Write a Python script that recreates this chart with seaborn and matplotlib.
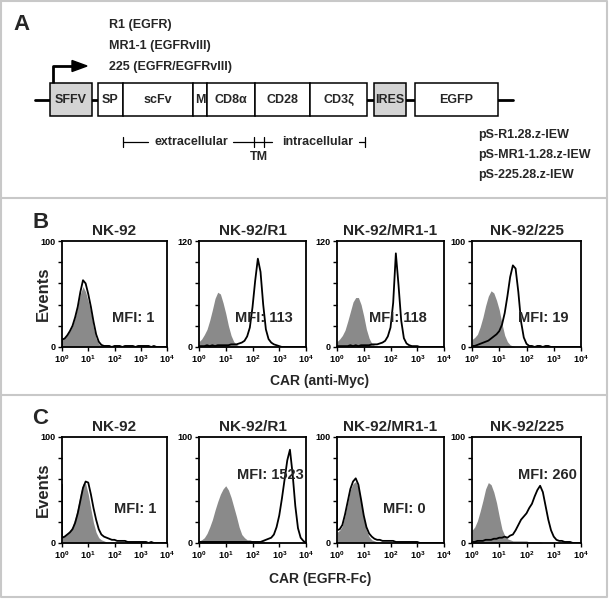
import matplotlib
matplotlib.use('Agg')
import matplotlib.pyplot as plt
from matplotlib.patches import Rectangle, Polygon
from matplotlib.ticker import NullLocator
import numpy as np
import seaborn as sns

sns.set_style('ticks')
plt.rcParams['font.family'] = ['Liberation Sans', 'DejaVu Sans']
plt.rcParams['font.weight'] = 'bold'
plt.rcParams['mathtext.fontset'] = 'custom'
plt.rcParams['mathtext.default'] = 'bf'
plt.rcParams['mathtext.bf'] = 'Liberation Sans:bold'
plt.rcParams['mathtext.rm'] = 'Liberation Sans:bold'

# ---- data -----------------------------------------------------------------
# channel grid in log10 units (10^0 .. 10^4, 0.1 decade bins)
log_channel = np.linspace(0, 4, 41)

samples = ['NK-92', 'NK-92/R1', 'NK-92/MR1-1', 'NK-92/225']

# panel B: CAR (anti-Myc); gray = control, black = stained
myc_control = [
    [7, 9, 12, 15, 20, 28, 38, 50, 57, 52,
     43, 33, 18, 8, 3, 1, 0, 0, 0, 0,
     0, 0, 0, 0, 0, 0, 0, 0, 0, 0,
     0, 0, 0, 0, 0, 0, 0, 0, 0, 0, 0],
    [6, 9, 14, 20, 30, 42, 55, 62, 60, 50,
     38, 24, 13, 6, 3, 1, 1, 1, 1, 1,
     1, 1, 1, 1, 1, 0, 0, 0, 0, 0,
     0, 0, 0, 0, 0, 0, 0, 0, 0, 0, 0],
    [6, 9, 13, 19, 29, 40, 51, 56, 56, 48,
     35, 20, 10, 4, 2, 1, 1, 1, 1, 1,
     1, 1, 1, 1, 1, 0, 0, 0, 0, 0,
     0, 0, 0, 0, 0, 0, 0, 0, 0, 0, 0],
    [7, 9, 12, 19, 28, 39, 48, 53, 51, 44,
     35, 22, 11, 5, 2, 1, 0, 0, 0, 0,
     0, 0, 0, 0, 0, 0, 0, 0, 0, 0,
     0, 0, 0, 0, 0, 0, 0, 0, 0, 0, 0],
]
myc_stained = [
    [7, 8, 11, 15, 20, 28, 38, 52, 63, 60,
     50, 38, 24, 12, 5, 2, 1, 1, 1, 0,
     1, 1, 1, 0, 1, 1, 1, 1, 0, 1,
     1, 1, 1, 1, 0, 1, 0, 0, 0, 0, 0],
    [1, 1, 1, 2, 1, 2, 1, 2, 2, 2,
     2, 2, 3, 3, 3, 4, 5, 7, 12, 22,
     45, 75, 100, 85, 48, 20, 9, 5, 3, 2,
     1, 0, 0, 0, 0, 0, 0, 0, 0, 0, 0],
    [1, 1, 1, 1, 1, 2, 1, 2, 1, 2,
     2, 2, 2, 3, 3, 3, 4, 5, 7, 12,
     22, 50, 106, 70, 30, 10, 4, 2, 1, 1,
     1, 0, 0, 0, 0, 0, 0, 0, 0, 0, 0],
    [1, 1, 2, 3, 4, 5, 6, 8, 10, 12,
     15, 21, 32, 48, 66, 77, 74, 52, 24, 9,
     3, 1, 1, 0, 1, 1, 0, 1, 1, 0,
     0, 0, 0, 0, 0, 0, 0, 0, 0, 0, 0],
]
myc_first_control = [53, 15, 15, 19]
myc_first_stained = [0, 0, 0, 0]
myc_mfi = [1, 113, 118, 19]
myc_ymax = [100, 120, 120, 100]

# panel C: CAR (EGFR-Fc)
fc_control = [
    [5, 7, 9, 12, 16, 24, 34, 47, 56, 56,
     46, 32, 19, 10, 5, 3, 2, 1, 1, 1,
     1, 1, 1, 1, 1, 1, 1, 1, 1, 1,
     1, 0, 0, 0, 0, 0, 0, 0, 0, 0, 0],
    [2, 3, 5, 9, 15, 22, 31, 39, 46, 51,
     54, 50, 43, 34, 25, 15, 8, 5, 3, 3,
     2, 2, 2, 2, 2, 1, 1, 1, 1, 0,
     0, 0, 0, 0, 0, 0, 0, 0, 0, 0, 0],
    [10, 12, 16, 26, 38, 50, 56, 58, 52, 38,
     23, 12, 6, 3, 2, 1, 1, 1, 1, 1,
     1, 0, 0, 0, 0, 0, 0, 0, 0, 0,
     0, 0, 0, 0, 0, 0, 0, 0, 0, 0, 0],
    [12, 15, 21, 30, 40, 51, 57, 55, 48, 38,
     25, 13, 7, 4, 3, 2, 2, 2, 2, 2,
     2, 1, 1, 1, 1, 1, 0, 0, 0, 0,
     0, 0, 0, 0, 0, 0, 0, 0, 0, 0, 0],
]
fc_stained = [
    [5, 6, 8, 10, 13, 19, 28, 40, 52, 58,
     57, 46, 33, 22, 13, 8, 6, 5, 4, 3,
     3, 2, 2, 2, 2, 1, 1, 1, 1, 1,
     1, 1, 1, 0, 1, 0, 0, 0, 0, 0, 0],
    [1, 1, 1, 1, 1, 1, 1, 1, 1, 1,
     1, 1, 1, 1, 1, 1, 1, 1, 1, 1,
     1, 1, 1, 1, 2, 3, 4, 5, 8, 15,
     26, 42, 60, 78, 88, 65, 35, 14, 5, 2, 0],
    [12, 13, 17, 27, 39, 51, 58, 61, 55, 41,
     26, 15, 9, 6, 4, 3, 3, 2, 2, 2,
     2, 2, 1, 1, 1, 1, 1, 1, 1, 1,
     1, 0, 0, 0, 0, 0, 0, 0, 0, 0, 0],
    [1, 1, 2, 2, 2, 3, 3, 3, 4, 4,
     5, 5, 6, 5, 7, 8, 12, 17, 22, 25,
     28, 33, 37, 44, 50, 54, 48, 35, 22, 12,
     6, 3, 2, 2, 1, 1, 1, 0, 0, 0, 0],
]
fc_first_control = [0, 0, 50, 20]
fc_first_stained = [55, 0, 59, 0]
fc_mfi = [1, 1523, 0, 260]
fc_ymax = [100, 100, 100, 100]

# panel A construct
blocks = ['SFFV', 'SP', 'scFv', 'M', 'CD8α', 'CD28', 'CD3ζ', 'IRES', 'EGFP']
gray_blocks = ['SFFV', 'IRES']
binders = ['R1 (EGFR)', 'MR1-1 (EGFRvIII)', '225 (EGFR/EGFRvIII)']
constructs = ['pS-R1.28.z-IEW', 'pS-MR1-1.28.z-IEW', 'pS-225.28.z-IEW']

# ---- layout (pixels) ------------------------------------------------------
W, H = 609, 599
fig = plt.figure(figsize=(W / 100, H / 100), dpi=100)
bg = fig.add_axes([0, 0, 1, 1])
bg.set_xlim(0, W)
bg.set_ylim(H, 0)
bg.axis('off')

frame = '#c8c8c8'
bg.plot([1, W - 2, W - 2, 1, 1], [1, 1, H - 2, H - 2, 1], color=frame, lw=1.5)
bg.plot([1, W - 2], [198, 198], color=frame, lw=1.5)
bg.plot([1, W - 2], [395, 395], color=frame, lw=1.5)

# panel letters
bg.text(22, 24, 'A', fontsize=16, ha='center', va='center')
bg.text(41, 222, 'B', fontsize=16, ha='center', va='center')
bg.text(40, 418, 'C', fontsize=16, ha='center', va='center')

# ---- panel A --------------------------------------------------------------
block_edges = [(50, 92), (98, 123), (123, 193), (193, 207), (207, 255),
               (255, 310), (310, 367), (374, 406), (415, 498)]
bg.plot([35, 513], [100, 100], color='black', lw=2, zorder=1)
for name, (x0, x1) in zip(blocks, block_edges):
    fc = '#d4d4d4' if name in gray_blocks else 'white'
    bg.add_patch(Rectangle((x0, 83), x1 - x0, 33, facecolor=fc,
                           edgecolor='black', lw=1.1, zorder=2))
    bg.text((x0 + x1) / 2, 100, name, fontsize=9, ha='center', va='center',
            zorder=3)

# promoter arrow
bg.plot([53, 53, 74], [83, 66, 66], color='black', lw=2, solid_capstyle='butt')
bg.add_patch(Polygon([[72, 60.5], [72, 71.5], [87, 66]], closed=True,
                     color='black'))

for i, t in enumerate(binders):
    bg.text(109, 25 + 21 * i, t, fontsize=9, ha='left', va='center')
for i, t in enumerate(constructs):
    bg.text(478, 135 + 20 * i, t, fontsize=9, ha='left', va='center')

# domain brackets
yb = 142
for seg in [(123, 148), (233, 272), (359, 365)]:
    bg.plot(seg, [yb, yb], color='black', lw=0.9)
for xt in [123, 254, 264, 365]:
    bg.plot([xt, xt], [yb - 5, yb + 5], color='black', lw=0.9)
bg.text(191, yb, 'extracellular', fontsize=9, ha='center', va='center')
bg.text(318, yb, 'intracellular', fontsize=9, ha='center', va='center')
bg.text(259, 157, 'TM', fontsize=9, ha='center', va='center')

# ---- histogram panels -----------------------------------------------------
ax_left = [62, 199, 337, 472]
ax_width = [105, 107, 107, 109]
ax_h = 106
myc_mfi_pos = [(0.68, 0.27), (0.61, 0.27), (0.57, 0.27), (0.65, 0.27)]
fc_mfi_pos = [(0.70, 0.32), (0.67, 0.64), (0.63, 0.32), (0.69, 0.64)]


def px_axes(left, top, w, h):
    return fig.add_axes([left / W, 1 - (top + h) / H, w / W, h / H])


def draw_hist(ax, ctrl, stain, first_ctrl, first_stain, ymax, mfi, pos,
              title):
    x = np.r_[1.0, 10 ** log_channel]
    ax.fill_between(x, np.r_[first_ctrl, ctrl], color='#8a8a8a', lw=0)
    sns.lineplot(x=x, y=np.r_[first_stain, stain], ax=ax, color='black',
                 lw=1.3, estimator=None, sort=False)
    ax.set_xscale('log')
    ax.set_xlim(1, 1e4)
    ax.set_ylim(0, ymax)
    ax.set_xticks([1, 10, 100, 1000, 10000])
    ax.set_xticklabels([r'$10^{%d}$' % i for i in range(5)])
    ax.xaxis.set_minor_locator(NullLocator())
    ax.set_yticks(np.linspace(0, ymax, 6))
    ax.set_yticklabels(['0', '', '', '', '', str(ymax)])
    ax.tick_params(direction='out', length=3, width=1, labelsize=6.5,
                   pad=1.5, colors='black')
    for sp in ax.spines.values():
        sp.set_linewidth(1.3)
        sp.set_color('black')
    ax.set_xlabel('')
    ax.set_ylabel('')
    ax.set_title(title, fontsize=11, fontweight='bold', pad=4)
    ax.text(pos[0], pos[1], 'MFI: %d' % mfi, transform=ax.transAxes,
            fontsize=10.5, ha='center', va='center')


for i in range(4):
    ax = px_axes(ax_left[i], 241, ax_width[i], ax_h)
    draw_hist(ax, myc_control[i], myc_stained[i], myc_first_control[i],
              myc_first_stained[i], myc_ymax[i], myc_mfi[i], myc_mfi_pos[i],
              samples[i])
    ax = px_axes(ax_left[i], 437, ax_width[i], ax_h)
    draw_hist(ax, fc_control[i], fc_stained[i], fc_first_control[i],
              fc_first_stained[i], fc_ymax[i], fc_mfi[i], fc_mfi_pos[i],
              samples[i])

bg.text(43, 294, 'Events', fontsize=12, rotation=90, ha='center', va='center')
bg.text(43, 490, 'Events', fontsize=12, rotation=90, ha='center', va='center')
bg.text(320, 381, 'CAR (anti-Myc)', fontsize=10, ha='center', va='center')
bg.text(320, 579, 'CAR (EGFR-Fc)', fontsize=10, ha='center', va='center')

fig.savefig('out.png', dpi=100)
